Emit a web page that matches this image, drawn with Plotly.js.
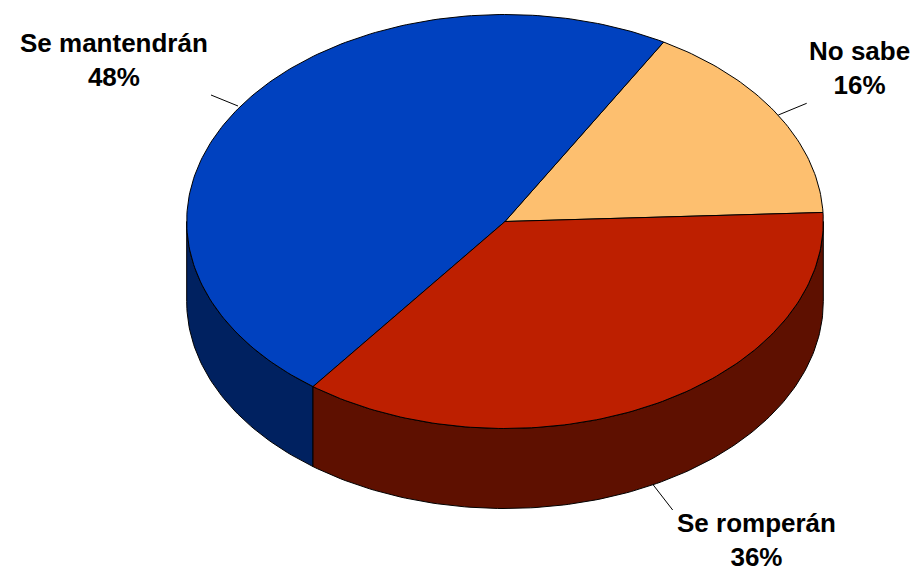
<!DOCTYPE html>
<html>
<head>
<meta charset="utf-8">
<script src="https://cdn.plot.ly/plotly-3.0.1.min.js"></script>
<style>html,body{margin:0;padding:0;background:#fff;}#chart{width:919px;height:572px;}</style>
</head>
<body>
<div id="chart"></div>
<script>
// Data
const categories = ['No sabe', 'Se mantendrán', 'Se romperán'];
const values = [16, 48, 36];
const topColors = ['#FDBF6F', '#0041BF', '#BD1F00'];
const sideColors = ['#8A6A3C', '#002160', '#5E1000'];

// Geometry of the 3D pie (pixel-based axes)
const cx = 505, cy = 221.5, rx = 318.3, ry = 207, depth = 80, startAngle = 2.5;
const total = values.reduce((a, b) => a + b, 0);

function pt(tDeg, dy) {
  const t = tDeg * Math.PI / 180;
  return [cx + rx * Math.cos(t), cy - ry * Math.sin(t) + (dy || 0)];
}
function arc(a0, a1, dy) {
  const pts = [];
  const n = Math.max(2, Math.ceil(Math.abs(a1 - a0)));
  for (let i = 0; i <= n; i++) pts.push(pt(a0 + (a1 - a0) * i / n, dy));
  return pts;
}

const traces = [];
const slices = [];
let acc = startAngle;
values.forEach((v, i) => {
  const a0 = acc, a1 = acc + v / total * 360;
  slices.push([a0, a1]);
  acc = a1;
});

// Side walls (front half: angles 180..360 mod 360)
slices.forEach(([a0, a1], i) => {
  [[180, 360], [540, 720]].forEach(([w0, w1]) => {
    const s = Math.max(a0, w0), e = Math.min(a1, w1);
    if (e > s) {
      const top = arc(s, e, 0);
      const bot = arc(e, s, depth);
      const all = top.concat(bot);
      all.push(top[0]);
      traces.push({
        type: 'scatter', mode: 'lines', fill: 'toself',
        x: all.map(p => p[0]), y: all.map(p => p[1]),
        fillcolor: sideColors[i], line: {color: '#000', width: 1},
        hoverinfo: 'skip', showlegend: false
      });
    }
  });
});

// Top faces
slices.forEach(([a0, a1], i) => {
  const all = [[cx, cy]].concat(arc(a0, a1, 0));
  all.push([cx, cy]);
  traces.push({
    type: 'scatter', mode: 'lines', fill: 'toself',
    x: all.map(p => p[0]), y: all.map(p => p[1]),
    fillcolor: topColors[i], line: {color: '#000', width: 1},
    hoverinfo: 'skip', showlegend: false
  });
});

// Label placements (layout positions)
const labelPos = [[859, 68], [114, 60], [756, 540]];
const leaders = [[[806.7, 103.3], [778.3, 115]], [[211, 95], [238, 106]], [[653.3, 485], [672.7, 510]]];

const annotations = categories.map((c, i) => ({
  x: labelPos[i][0], y: labelPos[i][1], xref: 'x', yref: 'y',
  text: '<b>' + c + '<br>' + values[i] + '%</b>',
  showarrow: false, xanchor: 'center', yanchor: 'middle', align: 'center',
  font: {family: 'Liberation Sans, Arial, sans-serif', size: 26, color: '#000'}
}));
const shapes = leaders.map(l => ({
  type: 'line', xref: 'x', yref: 'y',
  x0: l[0][0], y0: l[0][1], x1: l[1][0], y1: l[1][1],
  line: {color: '#000', width: 1}
}));

const layout = {
  width: 919, height: 572,
  margin: {l: 0, r: 0, t: 0, b: 0},
  paper_bgcolor: '#fff', plot_bgcolor: '#fff',
  xaxis: {range: [0, 919], visible: false, fixedrange: true},
  yaxis: {range: [572, 0], visible: false, fixedrange: true},
  annotations: annotations, shapes: shapes, showlegend: false
};
Plotly.newPlot('chart', traces, layout, {staticPlot: true});
</script>
</body>
</html>
